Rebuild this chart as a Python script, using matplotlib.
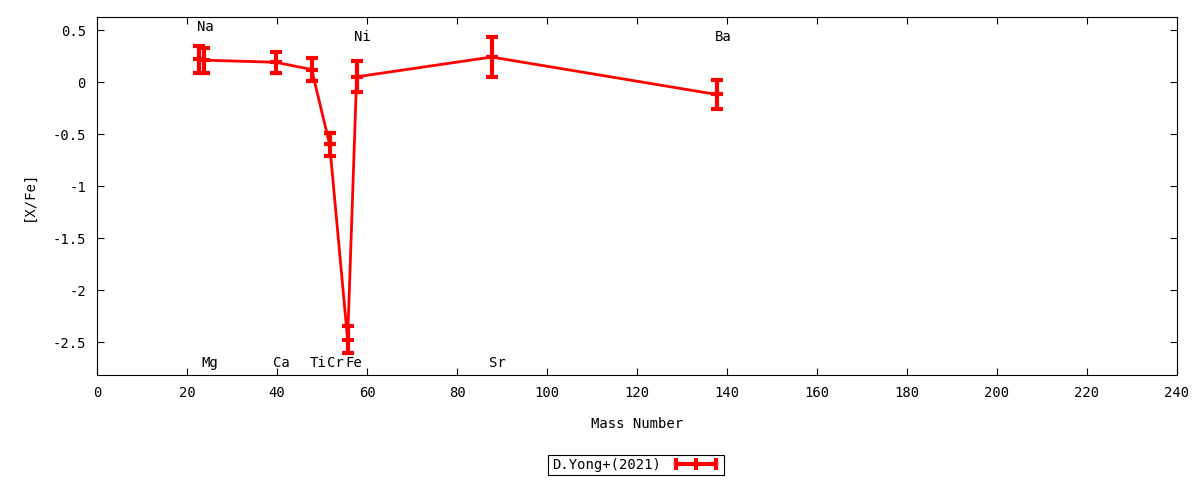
import matplotlib
matplotlib.use('Agg')
import matplotlib.pyplot as plt
from matplotlib.lines import Line2D

# --- data ---
elements = ['Na', 'Mg', 'Ca', 'Ti', 'Cr', 'Fe', 'Ni', 'Sr', 'Ba']
mass = [23, 24, 40, 48, 52, 56, 58, 88, 138]
xfe = [0.22, 0.21, 0.19, 0.12, -0.60, -2.48, 0.05, 0.24, -0.12]
err = [0.13, 0.12, 0.10, 0.11, 0.11, 0.13, 0.15, 0.19, 0.14]
# label heights ([X/Fe] units) for the element names
label_y = [0.53, -2.70, -2.70, -2.70, -2.70, -2.70, 0.43, -2.70, 0.43]

plt.rcParams['font.family'] = ['DejaVu Sans Mono']
plt.rcParams['font.size'] = 10

fig = plt.figure(figsize=(12, 4.8), dpi=100)
ax = fig.add_axes([97 / 1200, 105 / 480, 1080 / 1200, 358 / 480])

# gnuplot draws the points a hair left of the integer mass
xs = [m - 0.3 for m in mass]
ax.errorbar(xs, xfe, yerr=err, color='red', lw=2, elinewidth=3,
            capsize=4, capthick=3, marker='_', ms=8, mew=3)

for el, m, ly in zip(elements, mass, label_y):
    ax.text(m - 0.8, ly, el, ha='left', va='center', fontsize=10)

ax.set_xlim(0, 240)
ax.set_ylim(-2.817, 0.625)
ax.set_xticks(range(0, 241, 20))
ax.set_yticks([-2.5, -2, -1.5, -1, -0.5, 0, 0.5])
ax.set_yticklabels(['-2.5', '-2', '-1.5', '-1', '-0.5', '0', '0.5'])
ax.tick_params(direction='in', top=True, right=True, length=5, width=0.8,
               labelsize=10, pad=8)
ax.set_xlabel('Mass Number', fontsize=10, labelpad=12)
ax.set_ylabel('[X/Fe]', fontsize=10, labelpad=12)
for s in ax.spines.values():
    s.set_linewidth(0.8)

handle = Line2D([0, 1], [0, 0], color='red', lw=3, marker='|', ms=8, mew=3)
leg = fig.legend([handle], ['D.Yong+(2021)'], loc='center',
                 bbox_to_anchor=(636 / 1200, 1 - 465 / 480),
                 markerfirst=False, fancybox=False, framealpha=1,
                 edgecolor='black', fontsize=10, borderpad=0.25,
                 handlelength=3.5, numpoints=3)
leg.get_frame().set_linewidth(0.8)

fig.savefig('out.png', dpi=100)
